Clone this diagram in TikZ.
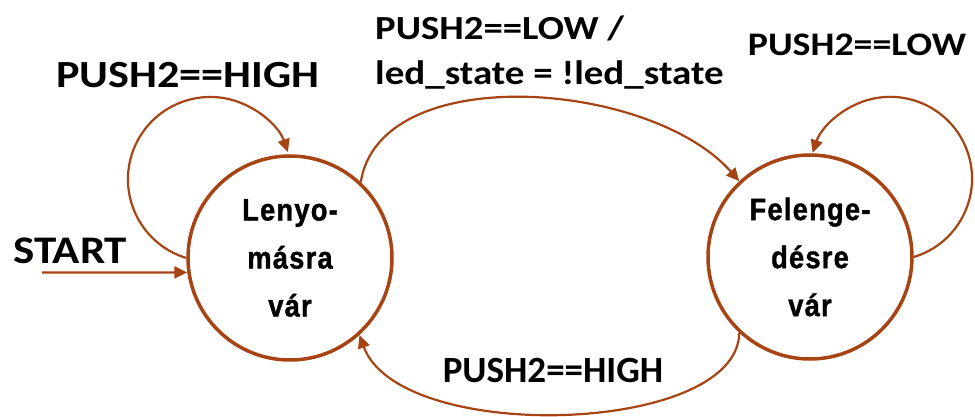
\documentclass[tikz,border=0pt]{standalone}
\usepackage{fontspec}
\setmainfont{Carlito}
\newfontfamily\lblwide{Carlito}[FakeStretch=1.15]
\newfontfamily\statefont{Liberation Sans}[FakeStretch=0.88, LetterSpace=4, FakeBold=1.2]
\usetikzlibrary{arrows.meta}
\definecolor{fsmbrown}{RGB}{166,68,20}
\begin{document}
\begin{tikzpicture}[x=1pt,y=-1pt,
  state/.style={circle, draw=fsmbrown, line width=3.5pt, minimum size=204pt,
    inner sep=0pt, align=center,
    font=\statefont\bfseries\fontsize{31}{48}\selectfont},
  trans/.style={draw=fsmbrown, line width=2.2pt,
    -{Triangle[length=13pt,width=12pt]}},
  lbl/.style={inner sep=0pt, text=black}]
\useasboundingbox (0,0) rectangle (975,417);

% states
\node[state] (L) at (290,258) {Lenyo-\\másra\\vár};
\node[state] (R) at (810,257) {Felenge-\\désre\\vár};

% initial transition
\coordinate (start) at (42,272.4);
\draw[trans] (start) -- (L.188);

% self loops
\draw[trans] (L.west) arc[start angle=106.96, end angle=340.7, radius=82.3];
\draw[trans] (R.east) arc[start angle=73.3, end angle=-161.6, radius=81.8];

% transitions between the states
\draw[trans] (L.47) .. controls (380,60) and (650,80) .. (R.133);
\draw[trans] (R.227) .. controls (738,435) and (400,445) .. (L.312);

% labels
\node[lbl, anchor=base, font=\lblwide\bfseries\fontsize{38.4}{40}\selectfont]
  (hlow) at (188,88) {PUSH2==HIGH};
\node[lbl, anchor=base west, font=\lblwide\bfseries\fontsize{33.7}{36}\selectfont]
  (tlow) at (375,40) {PUSH2==LOW /};
\node[lbl, anchor=base west, font=\lblwide\bfseries\fontsize{33.9}{36}\selectfont]
  (tact) at (375,85) {led\_state = !led\_state};
\node[lbl, anchor=base, font=\lblwide\bfseries\fontsize{32.9}{36}\selectfont]
  (rlow) at (857,56) {PUSH2==LOW};
\node[lbl, anchor=base west, font=\lblwide\bfseries\fontsize{39.1}{40}\selectfont]
  (st) at (13,263) {START};
\node[lbl, anchor=base, font=\bfseries\fontsize{37}{40}\selectfont]
  (bhigh) at (553,382) {PUSH2==HIGH};
\end{tikzpicture}
\end{document}
